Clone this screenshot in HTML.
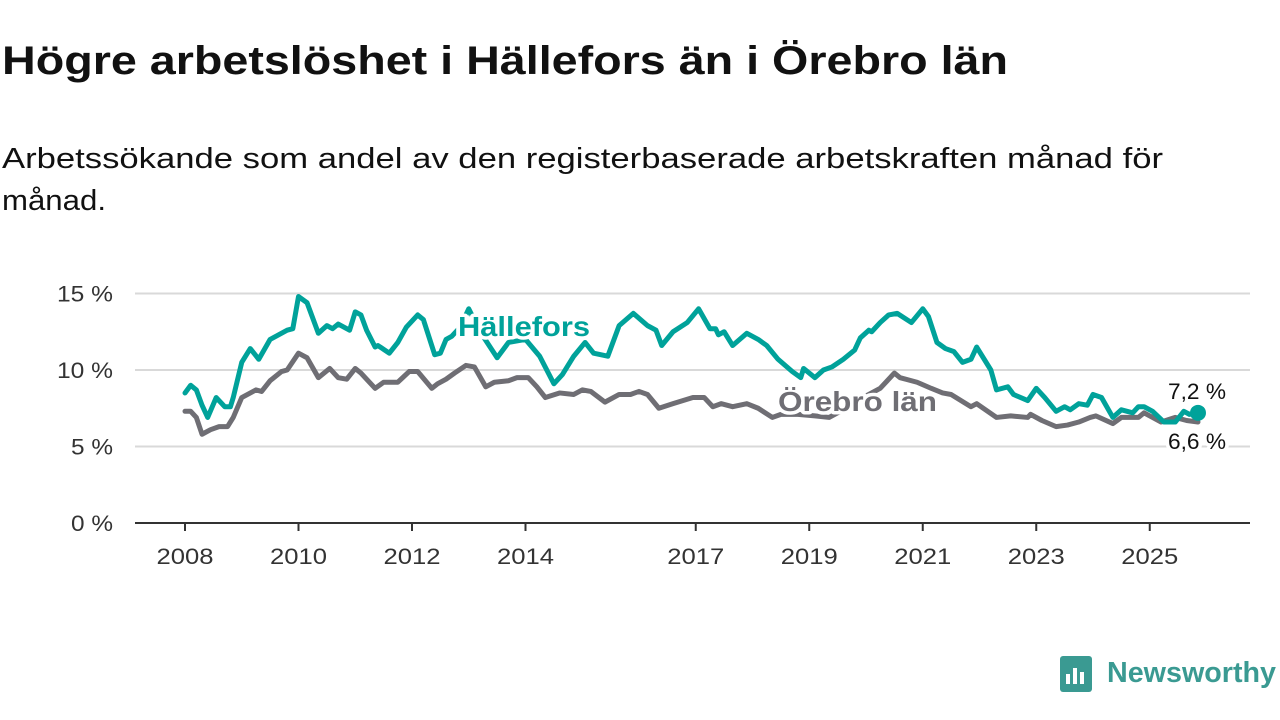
<!DOCTYPE html>
<html><head><meta charset="utf-8"><style>
body{margin:0;background:#fff;width:1280px;height:720px;overflow:hidden;font-family:"Liberation Sans",sans-serif;}
</style></head><body>
<svg width="1280" height="720" style="position:absolute;left:0;top:0">
<text x="2" y="74" font-size="40" font-weight="bold" fill="#111" textLength="1006" lengthAdjust="spacingAndGlyphs">Högre arbetslöshet i Hällefors än i Örebro län</text>
<text x="2" y="168" font-size="29" fill="#111" textLength="1161" lengthAdjust="spacingAndGlyphs">Arbetssökande som andel av den registerbaserade arbetskraften månad för</text>
<text x="2" y="210" font-size="29" fill="#111" textLength="104" lengthAdjust="spacingAndGlyphs">månad.</text>
<g id="grid"></g><g id="axes"></g><g id="series"></g><g id="labels"></g>
<g>
<rect x="1060" y="656" width="32" height="36" rx="3" fill="#3a9a92"/>
<rect x="1066" y="674" width="4" height="10" fill="#fff"/><rect x="1073" y="668" width="4" height="16" fill="#fff"/><rect x="1080" y="672" width="4" height="12" fill="#fff"/>
<text x="1107" y="682" font-size="29" font-weight="bold" fill="#3a9a92" textLength="169" lengthAdjust="spacingAndGlyphs">Newsworthy</text>
</g>
</svg>
<script>
const yTicks=[0,5,10,15];
const yTickLabels=["0 %","5 %","10 %","15 %"];
const xTicks=[2008,2010,2012,2014,2017,2019,2021,2023,2025];
const hDates=[2008.0,2008.1,2008.2,2008.3,2008.4,2008.55,2008.7,2008.8,2008.85,2009.0,2009.15,2009.3,2009.5,2009.65,2009.8,2009.9,2010.0,2010.15,2010.35,2010.5,2010.6,2010.7,2010.9,2011.0,2011.1,2011.2,2011.35,2011.4,2011.6,2011.75,2011.9,2012.1,2012.2,2012.4,2012.5,2012.6,2012.7,2012.85,2013.0,2013.2,2013.5,2013.7,2014.0,2014.25,2014.5,2014.65,2014.85,2015.05,2015.2,2015.45,2015.65,2015.9,2016.15,2016.3,2016.4,2016.6,2016.85,2017.05,2017.25,2017.35,2017.4,2017.5,2017.65,2017.9,2018.1,2018.25,2018.45,2018.7,2018.85,2018.9,2019.1,2019.25,2019.4,2019.6,2019.8,2019.9,2020.05,2020.1,2020.25,2020.4,2020.55,2020.8,2021.0,2021.1,2021.25,2021.4,2021.55,2021.7,2021.85,2021.95,2022.2,2022.3,2022.5,2022.6,2022.85,2023.0,2023.15,2023.35,2023.5,2023.6,2023.75,2023.9,2024.0,2024.15,2024.35,2024.5,2024.7,2024.8,2024.9,2025.05,2025.25,2025.45,2025.6,2025.7,2025.85];
const hVals=[8.5,9.0,8.7,7.7,6.9,8.2,7.6,7.6,8.2,10.5,11.4,10.7,12.0,12.3,12.6,12.7,14.8,14.4,12.4,12.9,12.7,13.0,12.6,13.8,13.6,12.6,11.5,11.6,11.1,11.8,12.8,13.6,13.3,11.0,11.1,12.0,12.2,12.8,14.0,12.5,10.8,11.8,12.0,10.9,9.1,9.7,10.9,11.8,11.1,10.9,12.9,13.7,12.9,12.6,11.6,12.5,13.1,14.0,12.7,12.7,12.3,12.5,11.6,12.4,12.0,11.6,10.7,9.9,9.5,10.1,9.5,10.0,10.2,10.7,11.3,12.1,12.6,12.5,13.1,13.6,13.7,13.1,14.0,13.5,11.8,11.4,11.2,10.5,10.7,11.5,10.0,8.7,8.9,8.4,8.0,8.8,8.2,7.3,7.6,7.4,7.8,7.7,8.4,8.2,6.9,7.4,7.2,7.6,7.6,7.3,6.6,6.6,7.3,7.1,7.2];
const oDates=[2008.0,2008.1,2008.2,2008.3,2008.45,2008.6,2008.75,2008.85,2009.0,2009.25,2009.35,2009.5,2009.7,2009.8,2010.0,2010.15,2010.35,2010.55,2010.7,2010.85,2011.0,2011.1,2011.35,2011.5,2011.75,2011.95,2012.1,2012.35,2012.45,2012.6,2012.75,2012.95,2013.1,2013.3,2013.45,2013.7,2013.85,2014.05,2014.2,2014.35,2014.6,2014.85,2015.0,2015.15,2015.4,2015.65,2015.85,2016.0,2016.15,2016.35,2016.6,2016.95,2017.15,2017.3,2017.45,2017.65,2017.9,2018.1,2018.35,2018.5,2018.8,2019.1,2019.35,2019.7,2020.0,2020.25,2020.5,2020.6,2020.9,2021.15,2021.35,2021.5,2021.85,2021.95,2022.3,2022.55,2022.85,2022.9,2023.1,2023.35,2023.55,2023.75,2023.95,2024.05,2024.35,2024.5,2024.8,2024.9,2025.05,2025.2,2025.45,2025.65,2025.85];
const oVals=[7.3,7.3,6.9,5.8,6.1,6.3,6.3,6.9,8.2,8.7,8.6,9.3,9.9,10.0,11.1,10.8,9.5,10.1,9.5,9.4,10.1,9.8,8.8,9.2,9.2,9.9,9.9,8.8,9.1,9.4,9.8,10.3,10.2,8.9,9.2,9.3,9.5,9.5,8.9,8.2,8.5,8.4,8.7,8.6,7.9,8.4,8.4,8.6,8.4,7.5,7.8,8.2,8.2,7.6,7.8,7.6,7.8,7.5,6.9,7.1,7.1,7.0,6.9,7.6,8.3,8.8,9.8,9.5,9.2,8.8,8.5,8.4,7.6,7.8,6.9,7.0,6.9,7.1,6.7,6.3,6.4,6.6,6.9,7.0,6.5,6.9,6.9,7.2,6.9,6.6,6.9,6.7,6.6];
const NS="http://www.w3.org/2000/svg";
const X0=135,X1=1250;
function xs(y){return 185+(y-2008)*56.75;}
function ys(v){return 523-v*15.3;}
function mk(t,a,p){const e=document.createElementNS(NS,t);for(const k in a)e.setAttribute(k,a[k]);p.appendChild(e);return e;}
const grid=document.getElementById('grid'),axes=document.getElementById('axes'),ser=document.getElementById('series'),lab=document.getElementById('labels');
yTicks.forEach((v,i)=>{
 if(v>0){const g=mk('line',{x1:X0,x2:X1,y1:ys(v),y2:ys(v),stroke:'#d9d9d9','stroke-width':2},grid);
 
 }
 const lbl=yTickLabels[i];
 const t=mk('text',{x:113,y:ys(v)+8,'text-anchor':'end','font-size':22,fill:'#333',textLength:lbl.length*14,lengthAdjust:'spacingAndGlyphs'},axes);t.textContent=lbl;
 
 
});
const ax=mk('line',{x1:X0,x2:X1,y1:523,y2:523,stroke:'#333','stroke-width':2},axes);


xTicks.forEach(y=>{
 mk('line',{x1:xs(y),x2:xs(y),y1:523,y2:531,stroke:'#333','stroke-width':2},axes);
 const t=mk('text',{x:xs(y),y:564,'text-anchor':'middle','font-size':22,fill:'#333',textLength:57,lengthAdjust:'spacingAndGlyphs'},axes);t.textContent=y;
 
 
});
function line(d,v,c,n){const p=mk('polyline',{points:d.map((x,i)=>xs(x)+','+ys(v[i])).join(' '),fill:'none',stroke:c,'stroke-width':5,'stroke-linejoin':'round','stroke-linecap':'round'},ser);
 
 }
line(oDates,oVals,'#6f6e74','line-orebro-lan');
line(hDates,hVals,'#00a29a','line-hallefors');
const dot=mk('circle',{cx:xs(hDates[hDates.length-1]),cy:ys(hVals[hVals.length-1]),r:8,fill:'#00a29a'},ser);


function txt(x,y,s,c,fs,fw,n,halo,w){const t=mk('text',{x:x,y:y,'font-size':fs,'font-weight':fw,fill:c,textLength:w,lengthAdjust:'spacingAndGlyphs'},lab);
 if(halo){t.setAttribute('stroke','#fff');t.setAttribute('stroke-width',7);t.setAttribute('paint-order','stroke');t.setAttribute('stroke-linejoin','round');}
 t.textContent=s;
 
 }
txt(458,336,'Hällefors','#00a29a',28,'bold','label-hallefors',true,132);
txt(778,411,'Örebro län','#6f6e74',28,'bold','label-orebro-lan',true,159);
txt(1168,399,'7,2 %','#111',22,'normal','end-value-hallefors',true,58);
txt(1168,449,'6,6 %','#111',22,'normal','end-value-orebro',true,58);
</script>
</body></html>
